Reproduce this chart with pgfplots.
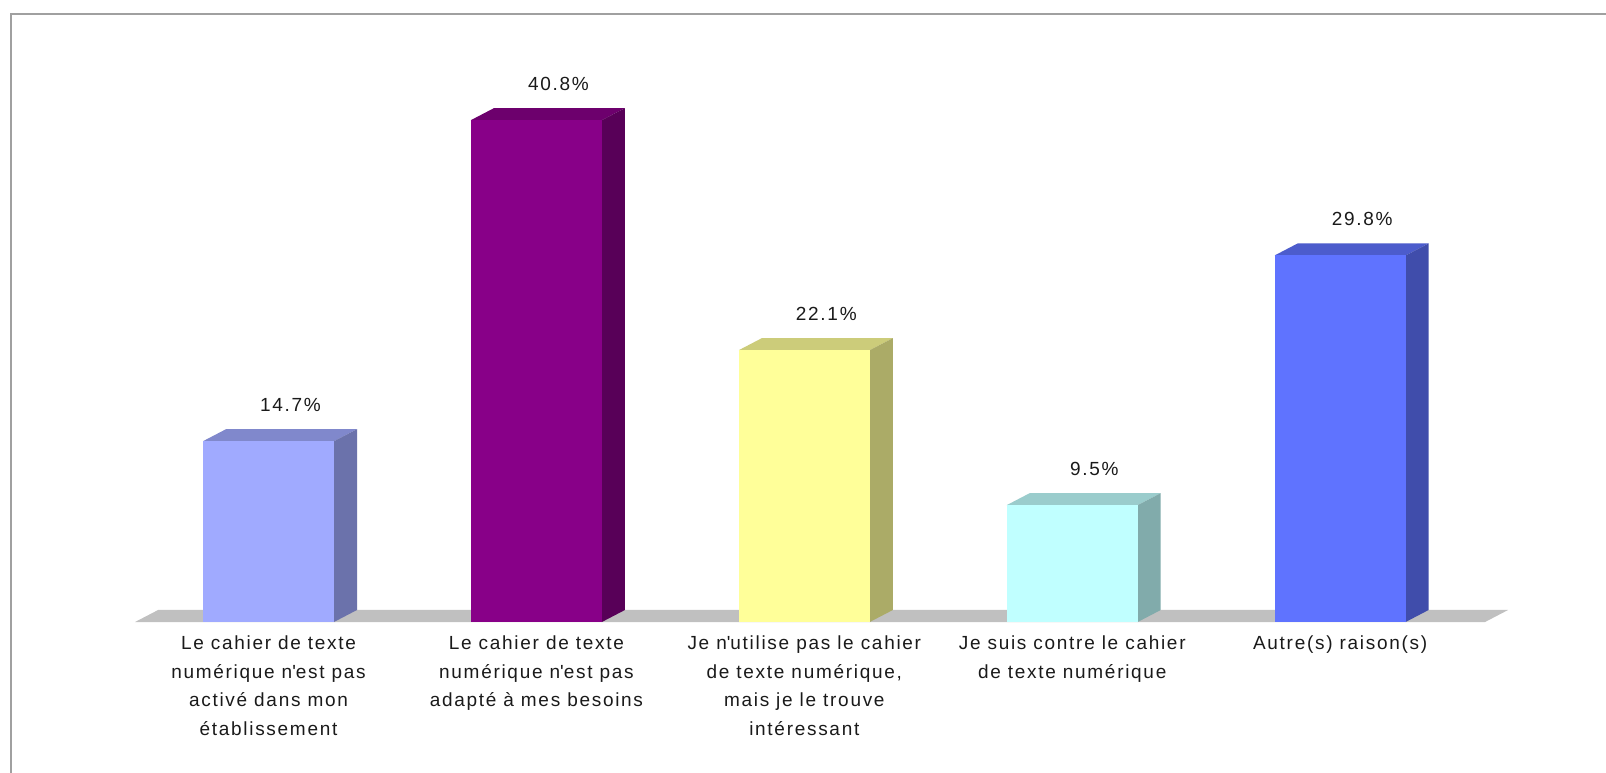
\documentclass[border=0pt]{standalone}
\usepackage{pgfplots}
\pgfplotsset{compat=1.18}
\usepackage{pgfplotstable}
\usepackage{fontspec}
\setmainfont{Liberation Sans}
\newfontfamily\chartfont{Liberation Sans}[LetterSpace=9]
\newcommand\labfont{\chartfont\fontsize{9.5bp}{14.2bp}\selectfont}

% front colours of the five bars, top and side are darker shades
\definecolor{front0}{HTML}{A0AAFF}
\definecolor{front1}{HTML}{880088}
\definecolor{front2}{HTML}{FFFF99}
\definecolor{front3}{HTML}{C0FFFF}
\definecolor{front4}{HTML}{5F73FF}
\colorlet{top0}{front0!80!black}\colorlet{side0}{front0!67!black}
\colorlet{top1}{front1!80!black}\colorlet{side1}{front1!65!black}
\colorlet{top2}{front2!80!black}\colorlet{side2}{front2!67!black}
\colorlet{top3}{front3!80!black}\colorlet{side3}{front3!67!black}
\colorlet{top4}{front4!80!black}\colorlet{side4}{front4!67!black}
\definecolor{floorgray}{HTML}{C0C0C0}
\definecolor{framegray}{HTML}{A0A0A0}
\definecolor{labcol}{HTML}{1A1A1A}

\pgfplotstableread{
x y
0 14.7
1 40.8
2 22.1
3 9.5
4 29.8
}\ratios

\begin{document}
\begin{tikzpicture}
\useasboundingbox (0,0) rectangle (803bp,386.5bp);
\fill[white] (0,0) rectangle (803bp,386.5bp);
\draw[framegray, line width=1bp] (5.5bp,0) -- (5.5bp,379.5bp) -- (803bp,379.5bp);
\begin{axis}[
    at={(53.88bp,75.5bp)}, anchor=south west,
    x=133.95bp, y=6.15bp,
    xmin=-0.6, xmax=4.8, ymin=0, ymax=45,
    clip=false,
    axis y line=none,
    axis x line*=bottom,
    x axis line style={draw=none},
    major tick length=0pt,
    ytick=\empty,
    xtick={0,...,4},
    xticklabels={
      {Le cahier de texte\\numérique n\textquotesingle est pas\\activé dans mon\\établissement},
      {Le cahier de texte\\numérique n\textquotesingle est pas\\adapté à mes besoins},
      {Je n\textquotesingle utilise pas le cahier\\de texte numérique,\\mais je le trouve\\intéressant},
      {Je suis contre le cahier\\de texte numérique},
      {Autre(s) raison(s)}},
    xticklabel style={font=\labfont, align=center, text=labcol, yshift=-3.5bp},
  ]
  % grey floor
  \addplot[fill=floorgray, draw=none, forget plot] coordinates {
    (-0.498,0) (4.541,0) (4.627,0.976) (-0.412,0.976) (-0.498,0)};
  % bars: front face as ybar, top and side faces from the same value
  \pgfplotsinvokeforeach{0,...,4}{
    \pgfplotstablegetelem{#1}{y}\of\ratios
    \edef\next{%
      \noexpand\fill[top#1] ([xshift=-32.75bp]axis cs:#1,\pgfplotsretval)
        -- ++(11.5bp,6bp) -- ++(65.5bp,0pt) -- ++(-11.5bp,-6bp) -- cycle;
      \noexpand\fill[side#1] ([xshift=32.75bp]axis cs:#1,0)
        -- ++(11.5bp,6bp) -- ([xshift=44.25bp,yshift=6bp]axis cs:#1,\pgfplotsretval)
        -- ([xshift=32.75bp]axis cs:#1,\pgfplotsretval) -- cycle;
    }\next
    \addplot[ybar, bar width=65.5bp, bar shift=0pt, fill=front#1, draw=none,
      restrict x to domain=#1:#1,
      nodes near coords={\pgfmathprintnumber[fixed,fixed zerofill,precision=1,assume math mode=true]{\pgfplotspointmeta}\%},
      every node near coord/.append style={font=\labfont, text=labcol, anchor=center, xshift=11bp, yshift=18bp},
    ] table {\ratios};
  }
\end{axis}
\end{tikzpicture}
\end{document}
